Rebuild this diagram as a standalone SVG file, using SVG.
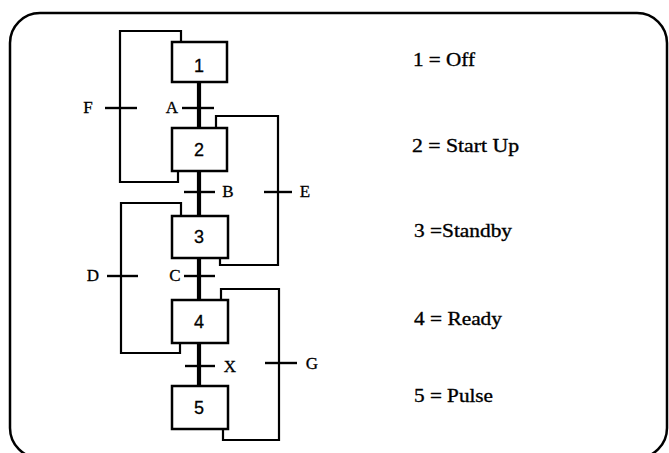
<svg xmlns="http://www.w3.org/2000/svg" width="669" height="453" viewBox="0 0 669 453">
<style>
.frame{fill:none;stroke:#000;stroke-width:2.5}
.box{fill:#fff;stroke:#000;stroke-width:2.5}
.num{font-family:"Liberation Sans",Arial,sans-serif;font-size:18px;text-anchor:middle;fill:#000;stroke:#000;stroke-width:0.3}
.main{stroke:#000;stroke-width:4.2;fill:none}
.loop{stroke:#000;stroke-width:2.2;fill:none}
.tick{stroke:#000;stroke-width:2.4}
.lbl{font-family:"Liberation Serif","Times New Roman",serif;font-size:17px;text-anchor:middle;fill:#000;stroke:#000;stroke-width:0.3}
.leg{font-family:"Liberation Serif","Times New Roman",serif;font-size:19px;fill:#000;stroke:#000;stroke-width:0.35}
</style>
<rect class="frame" x="10" y="13" width="657" height="445" rx="30" ry="30"/>
<g id="connectors">
<line class="main" x1="199" y1="82" x2="199" y2="128"/>
<line class="main" x1="199" y1="171" x2="199" y2="216"/>
<line class="main" x1="199" y1="258" x2="199" y2="300"/>
<line class="main" x1="199" y1="343" x2="199" y2="386"/>
<path class="loop" d="M181,42 V31 H120 V182 H178 V171"/>
<path class="loop" d="M216,128 V116 H278 V265 H220 V258"/>
<path class="loop" d="M181,216 V203 H121 V353 H180 V343"/>
<path class="loop" d="M221,300 V289 H279 V440 H223 V429"/>
<line class="tick" x1="182" y1="108" x2="214" y2="108"/>
<line class="tick" x1="105" y1="108" x2="137" y2="108"/>
<line class="tick" x1="184" y1="192" x2="215" y2="192"/>
<line class="tick" x1="264" y1="192" x2="292" y2="192"/>
<line class="tick" x1="184" y1="276" x2="215" y2="276"/>
<line class="tick" x1="107" y1="276" x2="138" y2="276"/>
<line class="tick" x1="185" y1="366" x2="215" y2="366"/>
<line class="tick" x1="265" y1="363" x2="297" y2="363"/>
<text class="lbl" x="172" y="113">A</text>
<text class="lbl" x="88" y="113">F</text>
<text class="lbl" x="228" y="197">B</text>
<text class="lbl" x="305" y="197">E</text>
<text class="lbl" x="175" y="281">C</text>
<text class="lbl" x="93" y="281">D</text>
<text class="lbl" x="230" y="372">X</text>
<text class="lbl" x="312" y="369">G</text>
</g>
<g id="s1"><rect class="box" x="172" y="42" width="55" height="40"/><text class="num" x="199" y="72">1</text></g>
<g id="s2"><rect class="box" x="172" y="128" width="55" height="43"/><text class="num" x="199" y="156">2</text></g>
<g id="s3"><rect class="box" x="172" y="216" width="56" height="42"/><text class="num" x="199" y="243">3</text></g>
<g id="s4"><rect class="box" x="172" y="300" width="56" height="43"/><text class="num" x="199" y="328">4</text></g>
<g id="s5"><rect class="box" x="172" y="386" width="56" height="43"/><text class="num" x="199" y="414">5</text></g>
<g id="legend">
<text class="leg" x="413" y="66" textLength="62" lengthAdjust="spacingAndGlyphs">1 = Off</text>
<text class="leg" x="412" y="152" textLength="107" lengthAdjust="spacingAndGlyphs">2 = Start Up</text>
<text class="leg" x="414" y="237" textLength="98" lengthAdjust="spacingAndGlyphs">3 =Standby</text>
<text class="leg" x="414" y="325" textLength="88" lengthAdjust="spacingAndGlyphs">4 = Ready</text>
<text class="leg" x="414" y="402" textLength="79" lengthAdjust="spacingAndGlyphs">5 = Pulse</text>
</g>
</svg>
